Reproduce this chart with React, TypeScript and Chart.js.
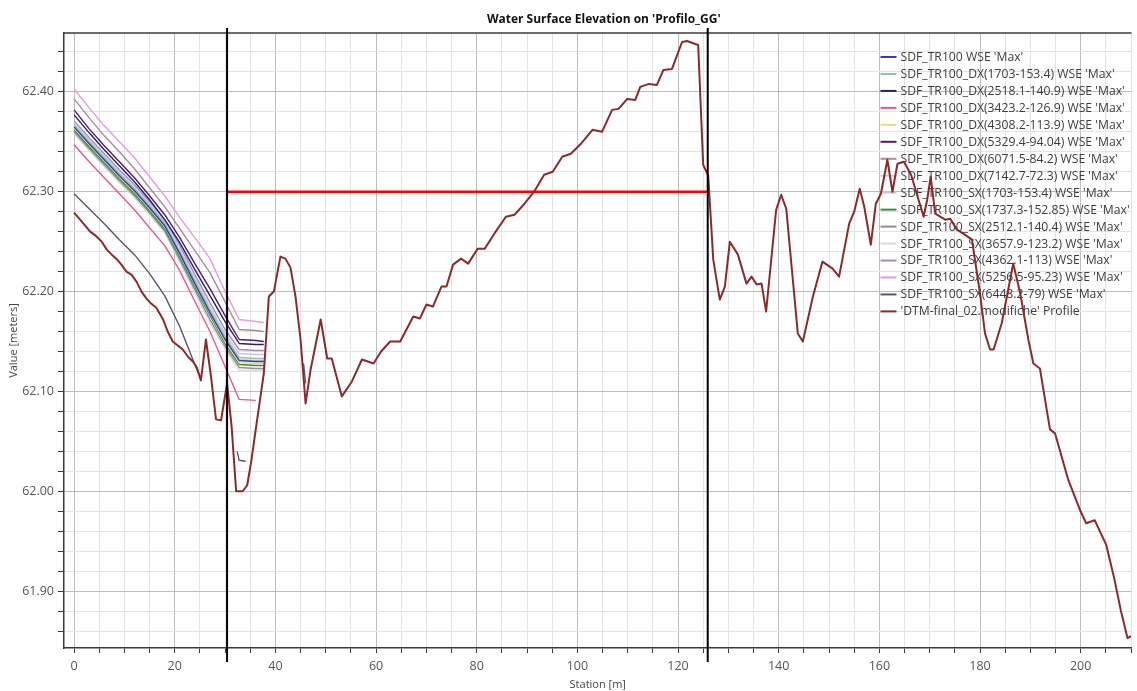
import React, { useEffect, useRef } from "react";
import { Chart, registerables } from "chart.js";

Chart.register(...registerables);

// ---- Text ----
const TITLE = "Water Surface Elevation on 'Profilo_GG'";
const X_TITLE = "Station [m]";
const Y_TITLE = "Value [meters]";

// ---- Axes ----
const X_MIN = -2;
const X_MAX = 210.1;
const X_TICK_STEP = 5;
const X_LABEL_STEP = 20;
const Y_MIN = 61.843;
const Y_MAX = 62.459;
const Y_TICK_STEP = 0.02;
const Y_LABELS = [61.9, 62.0, 62.1, 62.2, 62.3, 62.4];

// ---- Reference marks ----
const BANK_STATIONS = [30.4, 125.9];
const REFERENCE_LEVEL = 62.3;

// ---- Water surface profiles (shared stations) ----
const WSE_X = [0, 3, 6, 9, 12, 15, 18, 21, 24, 27, 30, 32.8, 36.1, 37.7];

const WSE_TR100 = [62.365, 62.348, 62.332, 62.316, 62.301, 62.284, 62.266, 62.238, 62.208, 62.179, 62.152, 62.131, 62.130, 62.130];
const WSE_DX_1703 = [62.367, 62.350, 62.334, 62.318, 62.303, 62.286, 62.268, 62.240, 62.211, 62.182, 62.155, 62.134, 62.133, 62.133];
const WSE_DX_2518 = [62.377, 62.359, 62.342, 62.326, 62.310, 62.292, 62.272, 62.249, 62.222, 62.196, 62.170, 62.148, 62.147, 62.147];
const WSE_DX_3423 = [62.347, 62.330, 62.314, 62.298, 62.282, 62.264, 62.246, 62.221, 62.190, 62.160, 62.125, 62.092, 62.091, null];
const WSE_DX_4308 = [62.364, 62.347, 62.331, 62.315, 62.300, 62.283, 62.265, 62.237, 62.207, 62.178, 62.150, 62.129, 62.128, 62.128];
const WSE_DX_5329 = [62.382, 62.363, 62.346, 62.330, 62.314, 62.296, 62.277, 62.254, 62.228, 62.203, 62.176, 62.152, 62.151, 62.150];
const WSE_DX_6071 = [62.393, 62.374, 62.356, 62.340, 62.323, 62.304, 62.285, 62.263, 62.241, 62.219, 62.190, 62.162, 62.161, 62.160];
const WSE_DX_7142 = [62.366, 62.349, 62.333, 62.317, 62.302, 62.285, 62.267, 62.239, 62.209, 62.180, 62.153, 62.132, 62.131, 62.131];
const WSE_SX_1703 = [62.369, 62.352, 62.336, 62.320, 62.305, 62.288, 62.270, 62.243, 62.214, 62.185, 62.158, 62.138, 62.137, 62.137];
const WSE_SX_1737 = [62.362, 62.345, 62.329, 62.313, 62.298, 62.281, 62.263, 62.235, 62.205, 62.176, 62.148, 62.127, 62.126, 62.126];
const WSE_SX_2512 = [62.360, 62.343, 62.327, 62.311, 62.296, 62.279, 62.261, 62.232, 62.202, 62.172, 62.145, 62.124, 62.123, 62.123];
const WSE_SX_3657 = [62.358, 62.341, 62.325, 62.309, 62.294, 62.277, 62.259, 62.230, 62.199, 62.169, 62.142, 62.121, 62.121, 62.121];
const WSE_SX_4362 = [62.371, 62.354, 62.338, 62.322, 62.307, 62.290, 62.272, 62.246, 62.217, 62.189, 62.162, 62.142, 62.141, 62.141];
const WSE_SX_5256 = [62.403, 62.384, 62.366, 62.350, 62.334, 62.315, 62.296, 62.274, 62.254, 62.233, 62.200, 62.172, 62.170, 62.169];

// The lowest profile meets the ground and leaves small ponds behind
const WSE_SX_6448_X = [0, 3, 6, 9, 12, 15, 18, 21, 23.6, 25.2, 28, 32.4, 32.8, 34.1, 40, 45.6, 46.0];
const WSE_SX_6448 = [62.298, 62.283, 62.268, 62.252, 62.237, 62.218, 62.196, 62.165, 62.132, 62.112, null, 62.040, 62.031, 62.030, null, 62.128, 62.108];

// ---- Ground profile ----
const DTM_X = [
  0, 1.2, 2.2, 3.2, 4.3, 5.5, 6.5, 7.5, 8.4, 9.4, 10.4, 11.4, 12.4, 13.4, 14.4, 15.3, 16.3, 17.7, 18.6, 19.6,
  20.6, 21.6, 22.6, 23.6, 24.4, 25.2, 26.2, 27.2, 28.2, 29.2, 30.4, 31.3, 32.2, 33.5, 34.4, 35.2, 36.1, 37.7, 38.7, 39.7,
  41.0, 42.0, 43.0, 44.0, 45.0, 46.0, 47.0, 49.0, 50.3, 51.2, 53.2, 55.2, 57.2, 59.5, 61.0, 62.8, 64.8, 67.4, 68.7, 70.0,
  71.3, 73.0, 74.0, 75.3, 76.9, 78.3, 80.2, 81.6, 83.5, 85.8, 87.5, 89.5, 91.4, 93.4, 95.1, 97.0, 98.7, 100.7, 103.0, 104.9,
  106.9, 108.2, 109.9, 111.5, 112.5, 114.2, 115.8, 117.1, 118.8, 120.8, 121.8, 124.0, 125.0, 126.0, 127.0, 128.3, 129.3, 130.3, 131.9, 133.6,
  134.6, 135.6, 136.6, 137.5, 139.5, 140.5, 141.5, 143.8, 144.8, 146.8, 148.7, 150.7, 152.0, 154.0, 155.0, 156.1, 157.0, 158.3, 159.3, 160.3,
  161.6, 162.6, 163.6, 164.9, 166.3, 168.8, 169.5, 170.2, 171.1, 173.1, 174.1, 175.4, 176.7, 178.4, 180.0, 181.0, 182.0, 182.7, 184.3, 186.6,
  188.0, 189.6, 190.6, 191.9, 193.9, 194.9, 197.5, 199.8, 201.1, 202.8, 205.1, 206.7, 208.0, 209.3, 210.0,
];
const DTM_Y = [
  62.279, 62.272, 62.266, 62.260, 62.256, 62.250, 62.242, 62.237, 62.233, 62.227, 62.220, 62.217, 62.210, 62.200, 62.193, 62.188, 62.184, 62.172, 62.160, 62.150,
  62.146, 62.142, 62.135, 62.130, 62.124, 62.111, 62.152, 62.115, 62.072, 62.071, 62.108, 62.065, 62.000, 62.000, 62.006, 62.030, 62.062, 62.118, 62.195, 62.200,
  62.235, 62.233, 62.224, 62.195, 62.152, 62.088, 62.122, 62.172, 62.133, 62.133, 62.095, 62.110, 62.132, 62.128, 62.140, 62.150, 62.150, 62.175, 62.173, 62.187,
  62.185, 62.205, 62.205, 62.227, 62.233, 62.228, 62.243, 62.243, 62.258, 62.275, 62.277, 62.288, 62.300, 62.317, 62.320, 62.335, 62.338, 62.348, 62.362, 62.360,
  62.382, 62.383, 62.393, 62.392, 62.405, 62.408, 62.407, 62.422, 62.423, 62.450, 62.451, 62.447, 62.327, 62.316, 62.232, 62.192, 62.205, 62.250, 62.237, 62.208,
  62.215, 62.207, 62.208, 62.180, 62.282, 62.297, 62.283, 62.158, 62.150, 62.195, 62.230, 62.223, 62.215, 62.268, 62.280, 62.303, 62.285, 62.247, 62.288, 62.298,
  62.332, 62.300, 62.328, 62.330, 62.317, 62.275, 62.292, 62.315, 62.278, 62.272, 62.273, 62.262, 62.258, 62.252, 62.198, 62.158, 62.142, 62.142, 62.168, 62.228,
  62.198, 62.152, 62.128, 62.123, 62.062, 62.058, 62.012, 61.982, 61.968, 61.971, 61.946, 61.912, 61.880, 61.853, 61.855,
];

type Series = {
  label: string;
  color: string;
  x: number[];
  y: (number | null)[];
  width: number;
  top?: boolean;
};

const SERIES: Series[] = [
  { label: "SDF_TR100 WSE 'Max'", color: "#2c3fc6", x: WSE_X, y: WSE_TR100, width: 1.4 },
  { label: "SDF_TR100_DX(1703-153.4) WSE 'Max'", color: "#93c0b2", x: WSE_X, y: WSE_DX_1703, width: 1.4 },
  { label: "SDF_TR100_DX(2518.1-140.9) WSE 'Max'", color: "#1f2466", x: WSE_X, y: WSE_DX_2518, width: 1.4 },
  { label: "SDF_TR100_DX(3423.2-126.9) WSE 'Max'", color: "#e8588f", x: WSE_X, y: WSE_DX_3423, width: 1.4 },
  { label: "SDF_TR100_DX(4308.2-113.9) WSE 'Max'", color: "#efdf6a", x: WSE_X, y: WSE_DX_4308, width: 1.4 },
  { label: "SDF_TR100_DX(5329.4-94.04) WSE 'Max'", color: "#5b1766", x: WSE_X, y: WSE_DX_5329, width: 1.4 },
  { label: "SDF_TR100_DX(6071.5-84.2) WSE 'Max'", color: "#a98b9c", x: WSE_X, y: WSE_DX_6071, width: 1.4 },
  { label: "SDF_TR100_DX(7142.7-72.3) WSE 'Max'", color: "#dcc4cc", x: WSE_X, y: WSE_DX_7142, width: 1.4 },
  { label: "SDF_TR100_SX(1703-153.4) WSE 'Max'", color: "#cfc4d8", x: WSE_X, y: WSE_SX_1703, width: 1.4 },
  { label: "SDF_TR100_SX(1737.3-152.85) WSE 'Max'", color: "#3c8a3c", x: WSE_X, y: WSE_SX_1737, width: 1.4 },
  { label: "SDF_TR100_SX(2512.1-140.4) WSE 'Max'", color: "#8d9090", x: WSE_X, y: WSE_SX_2512, width: 1.4 },
  { label: "SDF_TR100_SX(3657.9-123.2) WSE 'Max'", color: "#d9d9df", x: WSE_X, y: WSE_SX_3657, width: 1.4 },
  { label: "SDF_TR100_SX(4362.1-113) WSE 'Max'", color: "#a589c4", x: WSE_X, y: WSE_SX_4362, width: 1.4 },
  { label: "SDF_TR100_SX(5256.5-95.23) WSE 'Max'", color: "#e49be3", x: WSE_X, y: WSE_SX_5256, width: 1.4 },
  { label: "SDF_TR100_SX(6448.2-79) WSE 'Max'", color: "#5a5378", x: WSE_SX_6448_X, y: WSE_SX_6448, width: 1.4 },
  { label: "'DTM-final_02.modifiche' Profile", color: "#8a2b2b", x: DTM_X, y: DTM_Y, width: 2, top: true },
];

const FONT = "'Open Sans', 'Noto Sans', sans-serif";

function makeTicks(min: number, max: number, step: number) {
  const out: { value: number }[] = [];
  const first = Math.ceil(min / step - 1e-9);
  const last = Math.floor(max / step + 1e-9);
  for (let k = first; k <= last; k++) out.push({ value: +(k * step).toFixed(4) });
  return out;
}

const isMultiple = (v: number, step: number) => Math.abs(v / step - Math.round(v / step)) < 1e-6;
const isYLabel = (v: number) => Y_LABELS.some((l) => Math.abs(l - v) < 1e-6);

const decorations = {
  id: "profileDecorations",
  beforeDatasetsDraw(chart: any) {
    const { ctx, chartArea } = chart;
    const { left, right, top } = chartArea;
    ctx.save();
    // frame line along the top of the plot
    ctx.strokeStyle = "#3a3a3a";
    ctx.lineWidth = 1.5;
    ctx.beginPath();
    ctx.moveTo(left, top);
    ctx.lineTo(right, top);
    ctx.stroke();

    // legend (transparent, inside the plot, upper right)
    const lx = right - 251;
    const ly = top + 24;
    const rowH = 16.96;
    ctx.font = `12.2px ${FONT}`;
    ctx.textBaseline = "middle";
    ctx.textAlign = "left";
    chart.data.datasets.forEach((ds: any, i: number) => {
      const y = ly + i * rowH;
      ctx.strokeStyle = ds.borderColor;
      ctx.lineWidth = 2;
      ctx.beginPath();
      ctx.moveTo(lx, y);
      ctx.lineTo(lx + 16, y);
      ctx.stroke();
      ctx.fillStyle = "#3c3c3c";
      ctx.fillText(ds.label, lx + 20, y + 0.5);
    });
    ctx.restore();
  },
  afterDatasetsDraw(chart: any) {
    const { ctx, chartArea, scales } = chart;
    const xs = scales.x;
    const ys = scales.y;
    ctx.save();
    // reference level between the two bank stations
    const yRef = ys.getPixelForValue(REFERENCE_LEVEL);
    ctx.strokeStyle = "#ff0000";
    ctx.lineWidth = 2.5;
    ctx.beginPath();
    ctx.moveTo(xs.getPixelForValue(BANK_STATIONS[0]), yRef);
    ctx.lineTo(xs.getPixelForValue(BANK_STATIONS[1]), yRef);
    ctx.stroke();
    // bank station markers, running past the plot frame
    ctx.strokeStyle = "#000000";
    ctx.lineWidth = 2;
    BANK_STATIONS.forEach((s) => {
      const px = xs.getPixelForValue(s);
      ctx.beginPath();
      ctx.moveTo(px, chartArea.top - 5);
      ctx.lineTo(px, chartArea.bottom + 14);
      ctx.stroke();
    });
    ctx.restore();
  },
  afterDraw(chart: any) {
    const { ctx, chartArea } = chart;
    ctx.save();
    ctx.font = `bold 12px ${FONT}`;
    ctx.fillStyle = "#111";
    ctx.textAlign = "center";
    ctx.textBaseline = "middle";
    ctx.fillText(TITLE, (chartArea.left + chartArea.right) / 2 + 6, 20);
    ctx.restore();
  },
};

export default function App() {
  const canvasRef = useRef<HTMLCanvasElement | null>(null);

  useEffect(() => {
    const canvas = canvasRef.current;
    if (!canvas) return;

    const datasets = SERIES.map((s) => ({
      label: s.label,
      data: s.x.map((xv, i) => ({ x: xv, y: s.y[i] })),
      borderColor: s.color,
      backgroundColor: s.color,
      borderWidth: s.width,
      pointRadius: 0,
      pointHoverRadius: 0,
      tension: 0,
      spanGaps: false,
      borderJoinStyle: "round" as const,
      order: s.top ? -1 : 0,
    }));

    const chart = new Chart(canvas, {
      type: "line",
      data: { datasets },
      plugins: [decorations],
      options: {
        animation: false,
        responsive: false,
        events: [],
        layout: { padding: { top: 33, left: 0, right: 0, bottom: 0 } },
        plugins: {
          legend: { display: false },
          title: { display: false },
          tooltip: { enabled: false },
        },
        scales: {
          x: {
            type: "linear",
            min: X_MIN,
            max: X_MAX,
            afterBuildTicks: (scale: any) => {
              scale.ticks = makeTicks(X_MIN, X_MAX, X_TICK_STEP);
            },
            afterFit: (scale: any) => {
              scale.height = 43;
            },
            ticks: {
              autoSkip: false,
              maxRotation: 0,
              padding: 6,
              color: "#555",
              font: { family: FONT, size: 12.5 },
              callback: (v: any) => (isMultiple(Number(v), X_LABEL_STEP) ? String(Math.round(Number(v))) : ""),
            },
            grid: {
              color: (c: any) => (isMultiple(c.tick?.value ?? 0, X_LABEL_STEP) ? "#bdbdbd" : "#e3e3e3"),
              tickColor: "#3a3a3a",
              tickLength: 5,
              lineWidth: 1,
            },
            border: { display: true, color: "#3a3a3a", width: 1.5 },
            title: {
              display: true,
              text: X_TITLE,
              color: "#444",
              font: { family: FONT, size: 11 },
              padding: { top: 0, bottom: 0 },
            },
          },
          y: {
            type: "linear",
            min: Y_MIN,
            max: Y_MAX,
            afterBuildTicks: (scale: any) => {
              scale.ticks = makeTicks(Y_MIN, Y_MAX, Y_TICK_STEP);
            },
            afterFit: (scale: any) => {
              scale.width = 64;
            },
            ticks: {
              autoSkip: false,
              padding: 4,
              color: "#555",
              font: { family: FONT, size: 12.5 },
              callback: (v: any) => (isYLabel(Number(v)) ? Number(v).toFixed(2) : ""),
            },
            grid: {
              color: (c: any) => (isYLabel(c.tick?.value ?? 0) ? "#bdbdbd" : "#e3e3e3"),
              tickColor: "#3a3a3a",
              tickLength: 6,
              lineWidth: 1,
            },
            border: { display: true, color: "#3a3a3a", width: 1.5 },
            title: {
              display: true,
              text: Y_TITLE,
              color: "#444",
              font: { family: FONT, size: 11 },
              padding: { top: 7, bottom: 0 },
            },
          },
        },
      },
    });

    return () => chart.destroy();
  }, []);

  return (
    <div style={{ position: "absolute", left: 0, top: 0, width: 1137, height: 691, background: "#fff" }}>
      <canvas ref={canvasRef} width={1137} height={691} style={{ display: "block" }} />
    </div>
  );
}
